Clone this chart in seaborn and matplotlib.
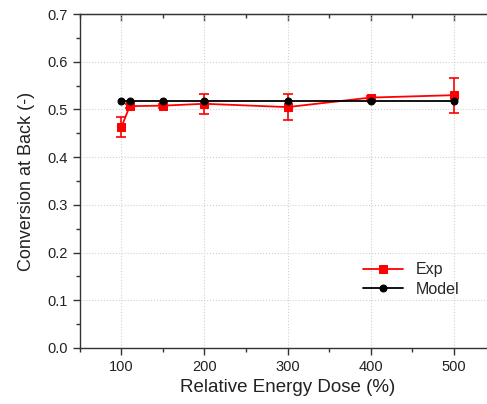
import matplotlib
matplotlib.use("Agg")
import matplotlib.pyplot as plt
import seaborn as sns
import pandas as pd
from matplotlib.ticker import MultipleLocator

dose = [100, 110, 150, 200, 300, 400, 500]
exp_vals = [0.463, 0.507, 0.508, 0.512, 0.505, 0.525, 0.530]
exp_err = [0.021, 0.004, 0.004, 0.021, 0.027, 0.004, 0.037]
model_vals = [0.517, 0.517, 0.517, 0.517, 0.517, 0.517, 0.517]

sns.set_style("white")
plt.rcParams['font.family'] = ['Liberation Sans', 'DejaVu Sans']

fig = plt.figure(figsize=(4.87, 4.04), dpi=100)
ax = fig.add_axes([0.164, 0.139, 0.853, 0.826])

df_exp = pd.DataFrame({"dose": dose, "val": exp_vals})
df_mod = pd.DataFrame({"dose": dose, "val": model_vals})

ax.errorbar(dose, exp_vals, yerr=exp_err, fmt='none', ecolor='red',
            elinewidth=1.2, capsize=3.5, capthick=1.2, zorder=2)
sns.lineplot(data=df_exp, x="dose", y="val", ax=ax, color='red', marker='s',
             markersize=6, markeredgecolor='red', linewidth=1.3, label='Exp', zorder=3)
sns.lineplot(data=df_mod, x="dose", y="val", ax=ax, color='black', marker='o',
             markersize=5, markeredgecolor='black', linewidth=1.3, label='Model', zorder=4)

ax.set_xlim(50, 550)
ax.set_ylim(0.0, 0.7)
ax.xaxis.set_minor_locator(MultipleLocator(50))
ax.yaxis.set_minor_locator(MultipleLocator(0.05))
ax.set_xticks([100, 200, 300, 400, 500])
ax.set_yticks([0.0, 0.1, 0.2, 0.3, 0.4, 0.5, 0.6, 0.7])
ax.set_yticklabels(["0.0", "0.1", "0.2", "0.3", "0.4", "0.5", "0.6", "0.7"])

ax.grid(True, which='major', color='#d0d0d0', linestyle=':', linewidth=0.8)
for s in ['left', 'bottom', 'top', 'right']:
    ax.spines[s].set_color('#333333')
    ax.spines[s].set_linewidth(1.0)

ax.tick_params(axis='both', which='major', direction='out', length=5, width=1,
               labelsize=10.5, colors='#333333', labelcolor='#222222',
               bottom=True, left=True)
ax.tick_params(axis='both', which='minor', direction='out', length=3, width=1,
               colors='#333333', bottom=True, left=True)

# top ticks pointing inward
top = ax.secondary_xaxis('top')
top.set_xticks([100, 200, 300, 400, 500])
top.xaxis.set_minor_locator(MultipleLocator(50))
top.tick_params(axis='x', which='major', direction='in', length=5, width=1,
                colors='#333333', labeltop=False, top=True)
top.tick_params(axis='x', which='minor', direction='in', length=3, width=1,
                colors='#333333', top=True)
top.spines['top'].set_color('#333333')

ax.set_xlabel('Relative Energy Dose (%)', fontsize=13.5, color='#222222')
ax.set_ylabel('Conversion at Back (-)', fontsize=13, color='#222222', labelpad=9)

leg = ax.legend(loc='upper left', bbox_to_anchor=(0.655, 0.29), frameon=False,
                fontsize=11.5, handlelength=2.5, borderpad=0.2, labelspacing=0.3)

fig.savefig('out.png', dpi=100)
